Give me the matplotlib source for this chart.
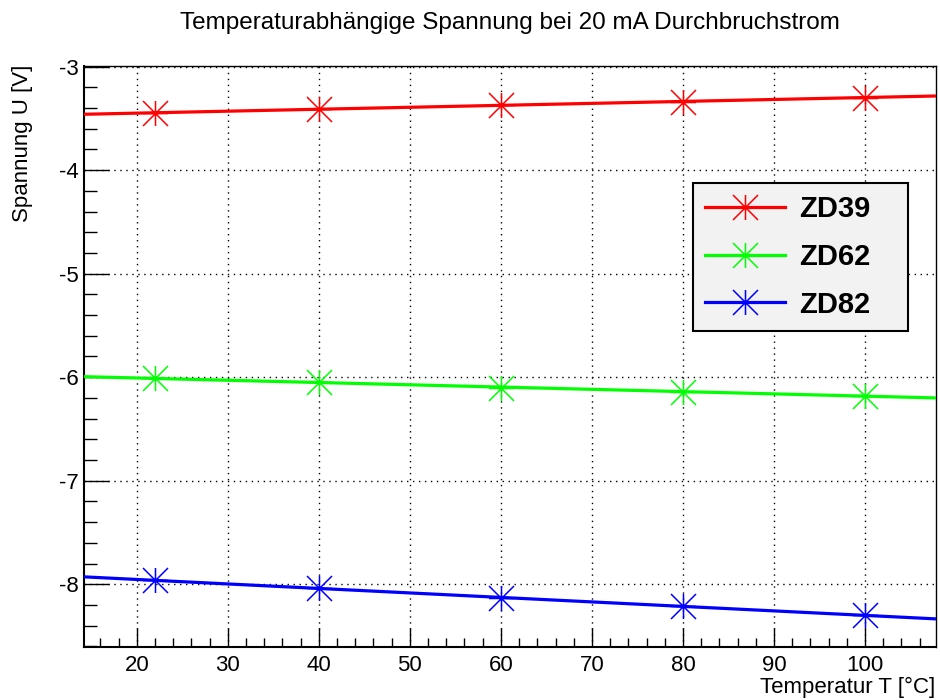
import numpy as np
import matplotlib
matplotlib.use("Agg")
import matplotlib.pyplot as plt
from matplotlib.path import Path
from matplotlib.lines import Line2D
from matplotlib.ticker import MultipleLocator, FuncFormatter

plt.rcParams['font.family'] = ['Liberation Sans', 'DejaVu Sans']

# ---- data ----
temperature = [22, 40, 60, 80, 100]
zd39 = [-3.45, -3.41, -3.37, -3.34, -3.30]
zd62 = [-6.01, -6.05, -6.10, -6.14, -6.18]
zd82 = [-7.96, -8.04, -8.13, -8.21, -8.30]
series_names = ["ZD39", "ZD62", "ZD82"]
series_colors = ["#ff0000", "#00ff00", "#0000ff"]
x_limits = (14.2, 107.8)
y_limits = (-8.605, -2.995)

title = "Temperaturabhängige Spannung bei 20 mA Durchbruchstrom"
xlabel = "Temperatur T [°C]"
ylabel = "Spannung U [V]"

# ROOT-like star marker (+ and x)
star = Path([(-1, 0), (1, 0), (0, -1), (0, 1), (-1, -1), (1, 1), (-1, 1), (1, -1)],
            [Path.MOVETO, Path.LINETO] * 4)

fig = plt.figure(figsize=(9.4, 7.0), dpi=100)
ax = fig.add_axes([84 / 940, 1 - 647 / 700, (936 - 84) / 940, (647 - 66) / 700])

ax.set_xlim(*x_limits)
ax.set_ylim(*y_limits)

xfit = np.array(x_limits)
handles = []
for name, vals, col in zip(series_names, [zd39, zd62, zd82], series_colors):
    coef = np.polyfit(temperature, vals, 1)
    ax.plot(xfit, np.polyval(coef, xfit), color=col, lw=2.3, zorder=3,
            solid_capstyle='butt')
    ax.plot(temperature, vals, linestyle='none', marker=star, markersize=18,
            markeredgewidth=1.1, markeredgecolor=col, markerfacecolor='none', zorder=4)
    handles.append(Line2D([], [], color=col, lw=2.3, marker=star, markersize=18,
                          markeredgewidth=1.1, markeredgecolor=col, label=name))

# ticks
ax.xaxis.set_major_locator(MultipleLocator(10))
ax.xaxis.set_minor_locator(MultipleLocator(2))
ax.yaxis.set_major_locator(MultipleLocator(1))
ax.yaxis.set_minor_locator(MultipleLocator(0.2))
ax.tick_params(axis='x', which='major', direction='in', length=13.7, width=1.0,
               labelsize=16, pad=6.0, top=False)
ax.tick_params(axis='x', which='minor', direction='in', length=6.8, width=1.0, top=False)
ax.tick_params(axis='y', which='major', direction='in', length=18, width=1.0,
               labelsize=16, pad=4.1, right=False)
ax.tick_params(axis='y', which='minor', direction='in', length=9, width=1.0, right=False)
ax.yaxis.set_major_formatter(FuncFormatter(lambda v, p: "%d" % round(v)))

ax.grid(True, which='major', color='black', lw=1.0, linestyle=(0, (1, 3.3)))
ax.set_axisbelow(True)

for s in ['left', 'bottom']:
    ax.spines[s].set_linewidth(1.5)
for s in ['top', 'right']:
    ax.spines[s].set_linewidth(1.0)

fig.text((84 + 936) / 2 / 940, 1 - 29.5 / 700, title, ha='center', va='baseline', fontsize=17.5)
fig.text(935 / 940, 1 - 687 / 700, xlabel, ha='right', va='center', fontsize=16)
fig.text(23 / 940, 1 - 65 / 700, ylabel, ha='center', va='top', rotation=90, fontsize=16)

lh = 0.01
leg = ax.legend(handles=handles, loc='upper left',
                bbox_to_anchor=((693 - 84) / 852, (647 - 183) / 581 - lh, (908 - 693) / 852, lh),
                mode='expand', borderaxespad=0, fancybox=False, framealpha=1,
                facecolor='#f2f2f2', edgecolor='black', numpoints=1,
                prop={'weight': 'bold', 'size': 21}, handlelength=2.74,
                handletextpad=0.48, labelspacing=0.68, borderpad=0.41)
leg.get_frame().set_linewidth(1.5)
leg.set_zorder(10)

fig.savefig("out.png", dpi=100)
